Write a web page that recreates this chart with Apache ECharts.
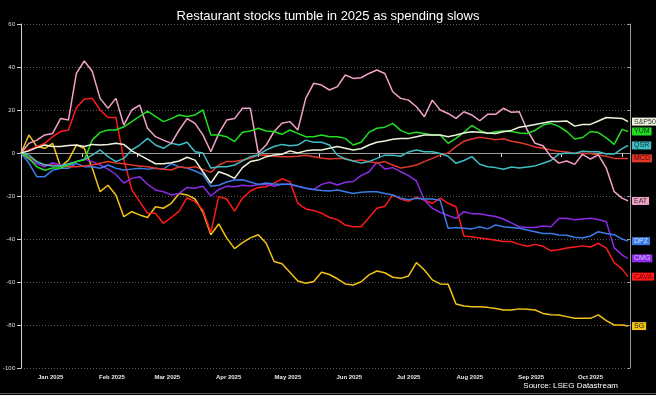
<!DOCTYPE html>
<html>
<head>
<meta charset="utf-8">
<script src="https://cdn.jsdelivr.net/npm/echarts@6/dist/echarts.min.js"></script>
<style>
html,body{margin:0;padding:0;background:#000;}
#c{width:656px;height:395px;}
</style>
</head>
<body>
<div id="c"></div>
<script>
const sampleDates = [
'2025-01-01','2025-01-05','2025-01-09','2025-01-13','2025-01-17','2025-01-21','2025-01-25','2025-01-29',
'2025-02-02','2025-02-06','2025-02-10','2025-02-14','2025-02-18','2025-02-22','2025-02-26',
'2025-03-02','2025-03-06','2025-03-10','2025-03-14','2025-03-18','2025-03-22','2025-03-26','2025-03-30',
'2025-04-03','2025-04-07','2025-04-11','2025-04-15','2025-04-19','2025-04-23','2025-04-27',
'2025-05-01','2025-05-05','2025-05-09','2025-05-13','2025-05-17','2025-05-21','2025-05-25','2025-05-29',
'2025-06-02','2025-06-06','2025-06-10','2025-06-14','2025-06-18','2025-06-22','2025-06-26','2025-06-30',
'2025-07-04','2025-07-08','2025-07-12','2025-07-16','2025-07-20','2025-07-24','2025-07-28',
'2025-08-01','2025-08-05','2025-08-09','2025-08-13','2025-08-17','2025-08-21','2025-08-25','2025-08-29',
'2025-09-02','2025-09-06','2025-09-10','2025-09-14','2025-09-18','2025-09-22','2025-09-26','2025-09-30',
'2025-10-04','2025-10-08','2025-10-12','2025-10-16','2025-10-20','2025-10-24','2025-10-28',
'2025-11-01','2025-11-04'
];

const sp500 = [0,1,2.5,3.7,3,3,3.5,3.7,3,4,3.7,4,4.5,4,1,-1,-3,-5,-5,-4.5,-3.7,
-2,-3.3,-8.7,-14,-8.7,-10,-11.8,-6.8,-4,-3.3,-1.7,-0.9,-0.6,1,0,1,1.4,1.4,2.2,
3,2.2,1.4,2,3.7,5,5.6,6.4,6.8,6.8,7.6,8.4,8.4,8.4,7.6,8.4,9.3,9.9,9.6,
9.3,9.1,9.9,10.5,12,12.6,13.3,14,14.6,14.6,14.9,12.5,13.3,13.3,14.9,16.5,16.3,16.1,14.6];

const yum = [0,-2.5,-6.4,-8,-7,-7,-5.6,-4,-3.3,6,9.6,10.7,10.7,12.2,14.6,17,19.5,17,14.6,16,17.7,
17,17.7,20,8.4,8.4,7.6,5.3,9.6,10.2,11.5,10.2,10,8.7,10.7,9.1,7.6,7.6,8.4,7.6,
7.6,6.8,3.7,5,9.6,11.5,12,13.8,10.5,9,9.6,9.1,8.4,8.4,4.5,6.8,9.6,12.8,10.5,
9.1,9.9,10.2,10,9.3,9.1,10.5,13,13.8,12.4,10,6.5,7.2,10,9.5,7,4,11,10];

const qsr = [0,-1,-4,-5.5,-6,-6,-5,-4,-3,-1,1.4,-1.7,-4,-2.5,1.4,3.7,6.8,3.7,2.2,4.5,3.7,
5,0.6,0,-7,-6.4,-6.4,-5.6,-3.7,-1.7,-0.9,1.4,3,4,3.4,3.7,6,5,5,3.7,
-1,-2.8,-3.7,-4.7,-4,-2.5,-1,-1,-1.5,0.5,1.4,0.6,0.6,-0.2,-1.5,-4.8,-3.5,-1.7,-5.2,
-6.4,-6.8,-7.6,-6.5,-7,-6.5,-6,-4.8,-3.5,-0.5,0,-0.2,0.8,0.6,0.6,-0.5,-0.5,2,3.5];

const mcd = [0,-2,-4,-5.6,-5.6,-6,-6.4,-6.4,-6,-5.6,-4.8,-4,-4.6,-5,-5.6,-6,-6.4,-7.1,-7.6,-7.9,-6.4,
-7,-6.4,-7.6,-9,-5.6,-4,-4,-3.3,-2.5,-1,-0.9,-1.5,-1.7,-1.7,-1.5,-1,-1.7,-2.3,-2.8,
-2.5,-2.5,-3.7,-3.3,-4,-4.8,-4,-5.6,-7,-6.4,-5.6,-4,-2.5,-1,0,3,5.5,6.5,7.3,
6.8,6.2,6.6,5.5,4.9,4,2.8,2.2,1.4,0.8,0.5,-0.1,-0.2,-0.2,-0.9,-1.5,-2.5,-2.5,-2.5];

const eat = [0,4.5,6,8.4,9.1,16,15.3,37,42.8,38,25.4,20.8,25.4,13,20,22.3,11.5,7.6,6,4.5,10.7,
16,13.8,8.4,0.6,9,15.3,16,20.8,20.8,0,3.7,10,13.8,14.6,10.7,25.4,32.4,31.6,29.3,
30.9,36.3,34.7,35,37,38.6,37,28.5,25.4,24.6,21.5,16.9,24.6,20,18.4,16.1,19.2,17.7,15,
18,18,20.8,18.9,19.2,10.7,4.5,3.4,-1.7,-4.7,-3.7,-5.3,-0.6,-2.8,-0.9,-7,-18,-21,-22.3];

const dpz = [0,-4.8,-11,-11,-8,-7.1,-7.1,-4.8,-6.4,-6.4,-7.1,-5.6,-7.1,-7.9,-7.5,-7.1,-7.5,-7.1,-7.5,-5,-6.4,
-7,-8.4,-10,-15.5,-15,-13.5,-12.6,-12.4,-13.5,-14.6,-14,-14.4,-14.6,-14.4,-15.5,-16.4,-17,-17.4,-17.7,
-17.2,-18,-18.8,-18.3,-18,-18,-18.8,-19.5,-21,-21.7,-21,-21.4,-21.4,-22,-35,-34.7,-35,-35.3,-34.3,
-35.3,-33.5,-34.3,-34.6,-35,-35.8,-36.6,-37.4,-37.4,-38.1,-38.3,-39.2,-39.5,-38.6,-36.6,-37.4,-38,-40,-41];

const cmg = [0,-3,-5,-6.4,-4.5,-5.6,-6.4,-4,-2.8,-4,-5.6,-7.5,-10,-14,-11.8,-11,-14.5,-17.2,-18,-19.5,-18.8,
-16,-16.4,-15.5,-20,-17,-15.5,-15.7,-15,-15.3,-14.7,-14.6,-15.5,-14.4,-14.7,-15.5,-16.4,-17,-14.6,-13.6,
-14.9,-13.6,-13.3,-10.5,-8.7,-4.3,-7.4,-6.8,-8.7,-10.5,-13,-22,-25.7,-27.6,-29.1,-30.4,-27.3,-28.2,-28.3,
-29,-29.5,-30.7,-32.5,-34.3,-34.6,-34.6,-34,-34.3,-30.5,-30.4,-31,-30.7,-30.4,-30.9,-32,-44,-47.5,-49];

const cava = [0,1.4,3,4.5,7.6,10,10.7,21,25,25.5,20,16.5,16.5,-3,-17,-22.6,-28,-28,-32.7,-30,-27,
-20.8,-22.6,-26.5,-37,-20.3,-21.4,-27,-21,-17.7,-16,-15.7,-14,-12,-13.3,-23.4,-26,-26.7,-28,-30,
-31,-33.5,-34.3,-34.3,-30,-25.7,-24.8,-19.5,-21.4,-22.5,-20.5,-22,-23.4,-21,-23.4,-25,-38.6,-39,-39.5,
-40,-40.6,-41.2,-41.2,-42.5,-43.4,-42.5,-43.4,-45.5,-45,-44.2,-43.7,-43.2,-43.7,-42,-44.2,-51,-54,-57.5];

const sg = [0,8.4,3,2.2,4.5,-6.4,-3.3,3.7,2.2,-7,-18,-15,-19.5,-29.6,-27.3,-28.8,-30,-25,-25.7,-23.4,-18.8,
-19.5,-21.4,-27.5,-38,-33,-39.5,-44.5,-41.7,-39.5,-38,-42,-50.5,-51.5,-55.5,-59.5,-60.6,-59.8,-55.5,-56.5,
-58.5,-60.9,-61.4,-59.9,-56.7,-54.9,-55.7,-57.8,-58.3,-57.2,-51,-54.4,-59,-60.9,-61,-70.2,-71.2,-71.5,-71.5,
-71.8,-72.3,-73,-73,-72.5,-72.7,-73,-74.6,-75.2,-75.3,-76.1,-76.9,-76.9,-76.9,-75.3,-78,-80,-80,-80.5];

const yTicks = [60,40,20,0,-20,-40,-60,-80,-100];
const monthNames = ['Jan','Feb','Mar','Apr','May','Jun','Jul','Aug','Sep','Oct','Nov','Dec'];

// full calendar axis (Jan 1 .. Nov 5 2025)
const axisDates = [];
for (let t = Date.UTC(2025,0,1); t <= Date.UTC(2025,10,5); t += 86400000) {
  axisDates.push(new Date(t).toISOString().slice(0,10));
}

const seriesDefs = [
  {name:'SG', data:sg, color:'#f2c314', text:'#222'},
  {name:'CAVA', data:cava, color:'#ff1a1a', text:'#6a0000'},
  {name:'CMG', data:cmg, color:'#8c2be6', text:'#d8c0ff'},
  {name:'DPZ', data:dpz, color:'#3a7ce8', text:'#d0e0ff'},
  {name:'MCD', data:mcd, color:'#e0382a', text:'#5a0000'},
  {name:'QSR', data:qsr, color:'#3fbcc4', text:'#103030'},
  {name:'EAT', data:eat, color:'#f2a2c8', text:'#333'},
  {name:'YUM', data:yum, color:'#22dd22', text:'#063006'},
  {name:'S&P500', data:sp500, color:'#eef4dc', text:'#333'}
];

const chart = echarts.init(document.getElementById('c'), null, {renderer:'canvas'});
const font = 'Liberation Sans, Arial, sans-serif';

const series = seriesDefs.map((s, idx) => {
  const o = {
    name: s.name,
    type: 'line',
    data: sampleDates.map((d,i) => [d, s.data[i]]),
    showSymbol: false,
    symbol: 'none',
    lineStyle: {width: 1.5, color: s.color},
    itemStyle: {color: s.color},
    z: 2 + idx,
    endLabel: {
      show: true,
      formatter: s.name,
      fontSize: 7,
      lineHeight: 8,
      fontFamily: font,
      color: s.text,
      backgroundColor: s.color,
      padding: [0,2,0,2],
      distance: 4
    }
  };
  if (idx === 0) {
    o.markLine = {
      silent: true,
      symbol: 'none',
      label: {show:false},
      lineStyle: {color:'#9a9a9a', type:'solid', width:1.2},
      data: [{yAxis: 0}],
      z: 1
    };
  }
  return o;
});

chart.setOption({
  animation: false,
  backgroundColor: '#000',
  title: [
    {text:'Restaurant stocks tumble in 2025 as spending slows', left:'center', top:5,
     textStyle:{color:'#ffffff', fontSize:13, fontWeight:'normal', fontFamily:font}},
    {text:'Source: LSEG Datastream', right:33, bottom:0,
     textStyle:{color:'#ffffff', fontSize:8, fontWeight:'normal', fontFamily:font}}
  ],
  graphic: [
    {type:'rect', left:0, top:393, shape:{width:656, height:1}, style:{fill:'#5a5a5a'}, silent:true}
  ],
  grid: {left:16, right:26, top:24, bottom:27, containLabel:false},
  xAxis: {
    type:'category',
    data: axisDates,
    boundaryGap:false,
    axisLine:{show:true, lineStyle:{color:'#dddddd', width:1}},
    axisTick:{show:true, length:4, lineStyle:{color:'#dddddd'},
      interval:(i, v) => v.slice(8,10) === '01'},
    axisLabel:{show:true, fontSize:6, fontWeight:'bold', color:'#e6e6e6', fontFamily:font, margin:6,
      interval:(i, v) => v.slice(8,10) === '16',
      formatter:(v) => monthNames[parseInt(v.slice(5,7),10)-1] + ' ' + v.slice(0,4)},
    splitLine:{show:false}
  },
  yAxis: [
    {type:'value', min:yTicks[yTicks.length-1], max:yTicks[0], interval:20, position:'left',
     axisLine:{show:true, lineStyle:{color:'#cccccc'}},
     axisTick:{show:true, length:4, lineStyle:{color:'#cccccc'}},
     axisLabel:{fontSize:6, color:'#dddddd', fontFamily:font, margin:6},
     splitLine:{show:true, lineStyle:{color:'#5a5a5a', type:[1,2], width:1}}},
    {type:'value', min:yTicks[yTicks.length-1], max:yTicks[0], interval:20, position:'right',
     axisLine:{show:true, lineStyle:{color:'#999999'}},
     axisTick:{show:true, inside:true, length:3, lineStyle:{color:'#999999'}},
     axisLabel:{show:false},
     splitLine:{show:false}}
  ],
  series: series
});
</script>
</body>
</html>
